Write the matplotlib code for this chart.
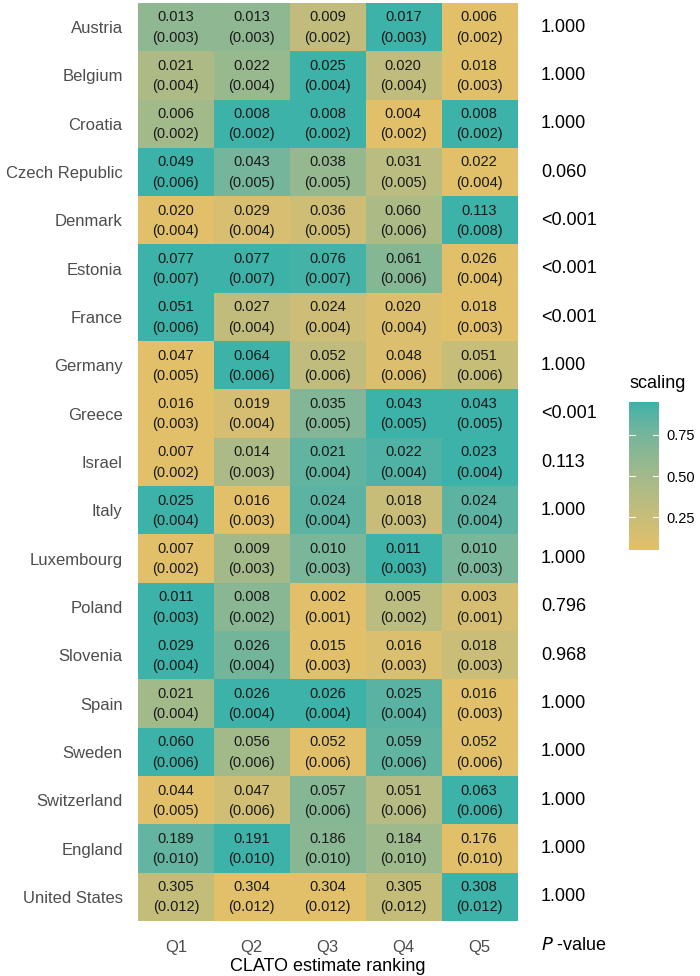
import numpy as np
import matplotlib
matplotlib.use("Agg")
import matplotlib.pyplot as plt
from matplotlib.colors import ListedColormap, Normalize, to_rgb

plt.rcParams["font.family"] = ["Liberation Sans", "DejaVu Sans"]

countries = ["Austria", "Belgium", "Croatia", "Czech Republic", "Denmark", "Estonia",
             "France", "Germany", "Greece", "Israel", "Italy", "Luxembourg", "Poland",
             "Slovenia", "Spain", "Sweden", "Switzerland", "England", "United States"]
quintiles = ["Q1", "Q2", "Q3", "Q4", "Q5"]

estimates = [
    [0.013, 0.013, 0.009, 0.017, 0.006],
    [0.021, 0.022, 0.025, 0.020, 0.018],
    [0.006, 0.008, 0.008, 0.004, 0.008],
    [0.049, 0.043, 0.038, 0.031, 0.022],
    [0.020, 0.029, 0.036, 0.060, 0.113],
    [0.077, 0.077, 0.076, 0.061, 0.026],
    [0.051, 0.027, 0.024, 0.020, 0.018],
    [0.047, 0.064, 0.052, 0.048, 0.051],
    [0.016, 0.019, 0.035, 0.043, 0.043],
    [0.007, 0.014, 0.021, 0.022, 0.023],
    [0.025, 0.016, 0.024, 0.018, 0.024],
    [0.007, 0.009, 0.010, 0.011, 0.010],
    [0.011, 0.008, 0.002, 0.005, 0.003],
    [0.029, 0.026, 0.015, 0.016, 0.018],
    [0.021, 0.026, 0.026, 0.025, 0.016],
    [0.060, 0.056, 0.052, 0.059, 0.052],
    [0.044, 0.047, 0.057, 0.051, 0.063],
    [0.189, 0.191, 0.186, 0.184, 0.176],
    [0.305, 0.304, 0.304, 0.305, 0.308],
]

std_errors = [
    [0.003, 0.003, 0.002, 0.003, 0.002],
    [0.004, 0.004, 0.004, 0.004, 0.003],
    [0.002, 0.002, 0.002, 0.002, 0.002],
    [0.006, 0.005, 0.005, 0.005, 0.004],
    [0.004, 0.004, 0.005, 0.006, 0.008],
    [0.007, 0.007, 0.007, 0.006, 0.004],
    [0.006, 0.004, 0.004, 0.004, 0.003],
    [0.005, 0.006, 0.006, 0.006, 0.006],
    [0.003, 0.004, 0.005, 0.005, 0.005],
    [0.002, 0.003, 0.004, 0.004, 0.004],
    [0.004, 0.003, 0.004, 0.003, 0.004],
    [0.002, 0.003, 0.003, 0.003, 0.003],
    [0.003, 0.002, 0.001, 0.002, 0.001],
    [0.004, 0.004, 0.003, 0.003, 0.003],
    [0.004, 0.004, 0.004, 0.004, 0.003],
    [0.006, 0.006, 0.006, 0.006, 0.006],
    [0.005, 0.006, 0.006, 0.006, 0.006],
    [0.010, 0.010, 0.010, 0.010, 0.010],
    [0.012, 0.012, 0.012, 0.012, 0.012],
]

p_values = ["1.000", "1.000", "1.000", "0.060", "<0.001", "<0.001", "<0.001", "1.000",
            "<0.001", "0.113", "1.000", "1.000", "0.796", "0.968", "1.000", "1.000",
            "1.000", "1.000", "1.000"]

est = np.array(estimates)
se = np.array(std_errors)

# row-wise rescale to [0.05, 0.95]
rmin = est.min(axis=1, keepdims=True)
rmax = est.max(axis=1, keepdims=True)
scaling = 0.05 + 0.9 * (est - rmin) / (rmax - rmin)


# gradient interpolated in Lab space, like ggplot's scale_fill_gradient
def srgb_to_lab(c):
    c = np.asarray(c, dtype=float)
    lin = np.where(c <= 0.04045, c / 12.92, ((c + 0.055) / 1.055) ** 2.4)
    m = np.array([[0.4124, 0.3576, 0.1805],
                  [0.2126, 0.7152, 0.0722],
                  [0.0193, 0.1192, 0.9505]])
    xyz = m @ lin / np.array([0.95047, 1.0, 1.08883])
    f = np.where(xyz > 0.008856, np.cbrt(xyz), 7.787 * xyz + 16 / 116)
    return np.array([116 * f[1] - 16, 500 * (f[0] - f[1]), 200 * (f[1] - f[2])])


def lab_to_srgb(lab):
    L, a, b = lab
    fy = (L + 16) / 116
    fx = fy + a / 500
    fz = fy - b / 200
    f = np.array([fx, fy, fz])
    xyz = np.where(f ** 3 > 0.008856, f ** 3, (f - 16 / 116) / 7.787)
    xyz = xyz * np.array([0.95047, 1.0, 1.08883])
    minv = np.array([[3.2406, -1.5372, -0.4986],
                     [-0.9689, 1.8758, 0.0415],
                     [0.0557, -0.2040, 1.0570]])
    lin = minv @ xyz
    c = np.where(lin <= 0.0031308, 12.92 * lin, 1.055 * np.clip(lin, 0, None) ** (1 / 2.4) - 0.055)
    return np.clip(c, 0, 1)


low_lab = srgb_to_lab(to_rgb("#E3C06A"))
high_lab = srgb_to_lab(to_rgb("#3DB2A8"))
cols = [lab_to_srgb(low_lab + t * (high_lab - low_lab)) for t in np.linspace(0, 1, 256)]
cmap = ListedColormap(cols)
norm = Normalize(vmin=0.05, vmax=0.95)

fig = plt.figure(figsize=(7, 9.76), dpi=100)
ax = fig.add_axes([138 / 700, 1 - 921 / 976, 379 / 700, 918 / 976])

n_rows, n_cols = est.shape
ax.imshow(scaling, cmap=cmap, norm=norm, aspect="auto",
          extent=(-0.5, n_cols - 0.5, n_rows - 0.5, -0.5), interpolation="nearest")
ax.set_xlim(-0.5, n_cols - 0.5)
ax.set_ylim(n_rows - 0.5, -0.5)

for i in range(n_rows):
    for j in range(n_cols):
        ax.text(j, i - 0.2, f"{est[i, j]:.3f}", ha="center", va="center",
                fontsize=10.5, color="#1a1a1a")
        ax.text(j, i + 0.22, f"({se[i, j]:.3f})", ha="center", va="center",
                fontsize=10.5, color="#1a1a1a")
    ax.text(n_cols - 0.5 + 24 / 75.8, i, p_values[i], ha="left", va="center",
            fontsize=13, color="black")

ax.text(n_cols - 0.5 + 24 / 75.8, n_rows - 0.5 + 24 / 48.3, r"$P$ -value",
        ha="left", va="center", fontsize=13, color="black")

ax.set_xticks(range(n_cols))
ax.set_xticklabels(quintiles, fontsize=12, color="#4D4D4D")
ax.set_yticks(range(n_rows))
ax.set_yticklabels(countries, fontsize=12, color="#4D4D4D")
ax.tick_params(axis="x", length=0, pad=14)
ax.tick_params(axis="y", length=0, pad=11)
ax.set_xlabel("CLATO estimate ranking", fontsize=13, color="black", labelpad=2)
for s in ax.spines.values():
    s.set_visible(False)

# colorbar
cax = fig.add_axes([629 / 700, 1 - 550 / 976, 30 / 700, 148 / 976])
grad = np.linspace(0.05, 0.95, 200).reshape(-1, 1)
cax.imshow(grad, cmap=cmap, norm=norm, aspect="auto", origin="lower",
           extent=(0, 1, 0.05, 0.95))
cax.set_xlim(0, 1)
cax.set_ylim(0.05, 0.95)
cax.set_xticks([])
cax.yaxis.tick_right()
cax.set_yticks([0.25, 0.5, 0.75])
cax.set_yticklabels(["0.25", "0.50", "0.75"], fontsize=10.5, color="black")
cax.tick_params(axis="y", length=0, pad=5)
for t in [0.25, 0.5, 0.75]:
    cax.plot([0, 0.2], [t, t], color="white", lw=0.8)
    cax.plot([0.8, 1], [t, t], color="white", lw=0.8)
for s in cax.spines.values():
    s.set_visible(False)
fig.text(630 / 700, 1 - 384 / 976, "scaling", fontsize=13, color="black",
         ha="left", va="center")

fig.savefig("out.png", dpi=100)
